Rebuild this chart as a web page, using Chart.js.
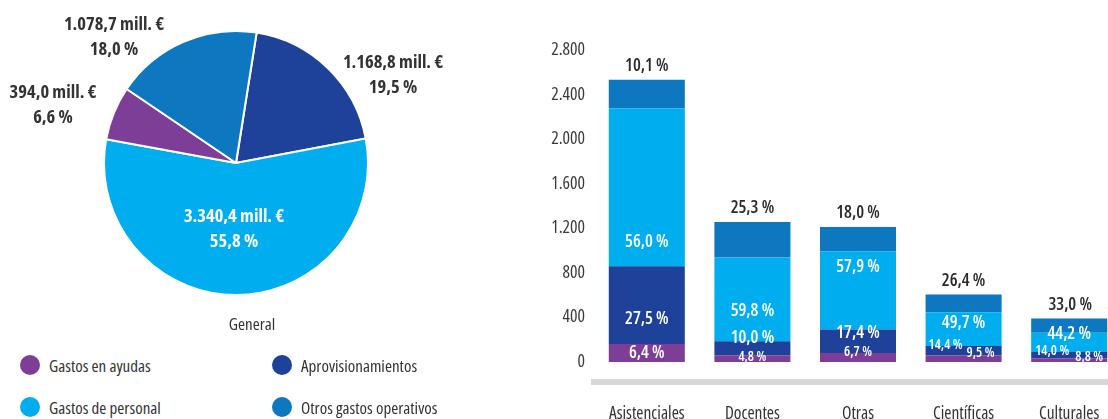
<!DOCTYPE html>
<html>
<head>
<meta charset="utf-8">
<script src="https://cdn.jsdelivr.net/npm/chart.js@4.4.1/dist/chart.umd.min.js"></script>
<style>
  html, body { margin: 0; padding: 0; background: #fff; overflow: hidden; }
  #wrap { position: relative; width: 1108px; height: 419px; overflow: hidden; }
  #pieBox { position: absolute; left: 0; top: 0; width: 472px; height: 326px; }
  #barBox { position: absolute; left: 540px; top: 0; width: 582px; height: 440px; }
  .txt { position: absolute; font-family: "Open Sans", sans-serif; font-stretch: condensed; font-size: 17px; color: #333; white-space: nowrap; }
  .dot { position: absolute; width: 20px; height: 20px; border-radius: 50%; }
</style>
</head>
<body>
<div id="wrap">
  <div id="pieBox"><canvas id="pie"></canvas></div>
  <div id="barBox"><canvas id="bar"></canvas></div>
  <div class="txt" style="left:252px;top:323px;transform:translate(-50%,-50%)">General</div>
  <div id="legend"></div>
</div>
<script>
// ---- pie data ----
const pieCategories = ['Aprovisionamientos', 'Gastos de personal', 'Gastos en ayudas', 'Otros gastos operativos'];
const pieValues = [1168.8, 3340.4, 394.0, 1078.7];
const piePercents = [19.5, 55.8, 6.6, 18.0];

// ---- bar data ----
const barCategories = ['Asistenciales', 'Docentes', 'Otras', 'Científicas', 'Culturales'];
const ayudas = [162, 60, 81, 57, 34];
const aprovisionamientos = [696, 126, 211, 87, 55];
const personal = [1418, 752, 701, 301, 173];
const otros = [256, 318, 218, 160, 129];
const pctAyudas = [6.4, 4.8, 6.7, 9.5, 8.8];
const pctAprov = [27.5, 10.0, 17.4, 14.4, 14.0];
const pctPersonal = [56.0, 59.8, 57.9, 49.7, 44.2];
const pctOtros = [10.1, 25.3, 18.0, 26.4, 33.0];
const yTicks = [0, 400, 800, 1200, 1600, 2000, 2400, 2800];
const yTickLabels = ['0', '400', '800', '1.200', '1.600', '2.000', '2.400', '2.800'];

const PURPLE = '#7c3e97', DARK = '#1e4199', LIGHT = '#00aeef', MID = '#0d77bf';
const FAMILY = '"Open Sans", sans-serif';
const cfont = (w, size) => 'condensed ' + w + ' ' + size + 'px ' + FAMILY;

function fmt(v, dec) {
  let [a, b] = v.toFixed(dec).split('.');
  a = a.replace(/\B(?=(\d{3})+(?!\d))/g, '.');
  return b ? a + ',' + b : a;
}

// legend (html)
const legendItems = [
  ['Gastos en ayudas', PURPLE, 20, 365],
  ['Aprovisionamientos', DARK, 272, 365],
  ['Gastos de personal', LIGHT, 20, 407],
  ['Otros gastos operativos', MID, 272, 407]
];
const lg = document.getElementById('legend');
legendItems.forEach(([t, c, x, y]) => {
  lg.insertAdjacentHTML('beforeend',
    `<div class="dot" style="background:${c};left:${x}px;top:${y - 10}px"></div>` +
    `<div class="txt" style="left:${x + 29}px;top:${y}px;transform:translateY(-50%)">${t}</div>`);
});

// pie label placement, offset from pie centre
const pieLabelPos = [[157, -88], [-2, 66], [-183, -58], [-122, -126]];
const pieLabelColor = ['#333', '#fff', '#333', '#333'];

const pieLabels = {
  id: 'pieLabels',
  afterDatasetsDraw(chart) {
    const ctx = chart.ctx;
    const arc = chart.getDatasetMeta(0).data[0];
    ctx.save();
    ctx.font = cfont(700, 18.5);
    ctx.textAlign = 'center';
    ctx.textBaseline = 'middle';
    pieValues.forEach((v, i) => {
      const x = arc.x + pieLabelPos[i][0], y = arc.y + pieLabelPos[i][1];
      ctx.fillStyle = pieLabelColor[i];
      ctx.fillText(fmt(v, 1) + ' mill. €', x, y - 12.5);
      ctx.fillText(fmt(piePercents[i], 1) + ' %', x, y + 12.5);
    });
    ctx.restore();
  }
};

new Chart(document.getElementById('pie'), {
  type: 'pie',
  data: {
    labels: pieCategories,
    datasets: [{
      data: pieValues,
      backgroundColor: [DARK, LIGHT, PURPLE, MID],
      borderColor: '#fff',
      borderWidth: 2
    }]
  },
  options: {
    responsive: true,
    maintainAspectRatio: false,
    animation: false,
    rotation: 9,
    layout: { padding: { top: 30, bottom: 30 } },
    plugins: { legend: { display: false }, tooltip: { enabled: false } }
  },
  plugins: [pieLabels]
});

// bar labels: [dx, dy, size] per series / category
const barLabelLayout = [
  [[0, 0, 17.6], [0, -2, 13.8], [0, -5, 13.8], [17, -6, 13.8], [20, -3, 13.8]],
  [[0, 14, 17.6], [0, -10, 17.6], [0, -8, 17.6], [-18, -6, 13.8], [-17, -4, 13.8]],
  [[0, 55, 17.6], [0, 12, 17.6], [0, -23, 17.6], [0, -6, 17.6], [0, -8, 17.6]],
  [[0, -14, 17.6], [0, -14, 17.6], [0, -14, 17.6], [0, -14, 17.6], [1, -13, 17.6]]
];
const barPcts = [pctAyudas, pctAprov, pctPersonal, pctOtros];

const barLabels = {
  id: 'barLabels',
  afterDatasetsDraw(chart) {
    const ctx = chart.ctx;
    ctx.save();
    ctx.textAlign = 'center';
    ctx.textBaseline = 'middle';
    chart.data.datasets.forEach((ds, i) => {
      chart.getDatasetMeta(i).data.forEach((bar, j) => {
        const [dx, dy, size] = barLabelLayout[i][j];
        const isTop = i === 3;
        const x = bar.x + dx;
        const y = isTop ? bar.y + dy : (bar.y + bar.base) / 2 + dy;
        ctx.font = cfont(600, size);
        ctx.fillStyle = isTop ? '#2a2a2a' : '#fff';
        ctx.fillText(fmt(barPcts[i][j], 1) + ' %', x, y);
      });
    });
    ctx.restore();
  }
};

new Chart(document.getElementById('bar'), {
  type: 'bar',
  data: {
    labels: barCategories,
    datasets: [
      { label: 'Gastos en ayudas', data: ayudas, backgroundColor: PURPLE },
      { label: 'Aprovisionamientos', data: aprovisionamientos, backgroundColor: DARK },
      { label: 'Gastos de personal', data: personal, backgroundColor: LIGHT },
      { label: 'Otros gastos operativos', data: otros, backgroundColor: MID }
    ]
  },
  options: {
    responsive: true,
    maintainAspectRatio: false,
    animation: false,
    layout: { padding: { top: 50, right: 0, left: 0, bottom: 0 } },
    datasets: { bar: { barPercentage: 0.72, categoryPercentage: 1.0 } },
    plugins: { legend: { display: false }, tooltip: { enabled: false } },
    scales: {
      x: {
        stacked: true,
        grid: { color: 'transparent', drawTicks: false },
        border: { display: true, color: '#d6d7d9', width: 6 },
        ticks: {
          color: '#333',
          font: { family: FAMILY, weight: 'condensed 400', size: 17.4 },
          padding: 22,
          maxRotation: 0,
          autoSkip: false
        },
        afterFit: s => { s.height = 58; }
      },
      y: {
        stacked: true,
        min: -180,
        max: 2800,
        grid: { display: false, drawTicks: false },
        border: { display: false },
        afterBuildTicks: s => { s.ticks = yTicks.map(v => ({ value: v })); },
        ticks: {
          color: '#3a3a3a',
          font: { family: FAMILY, weight: 'condensed 400', size: 17.6 },
          padding: 9,
          callback: (v) => yTickLabels[yTicks.indexOf(v)]
        },
        afterFit: s => { s.width = 54; }
      }
    }
  },
  plugins: [barLabels]
});
</script>
</body>
</html>
